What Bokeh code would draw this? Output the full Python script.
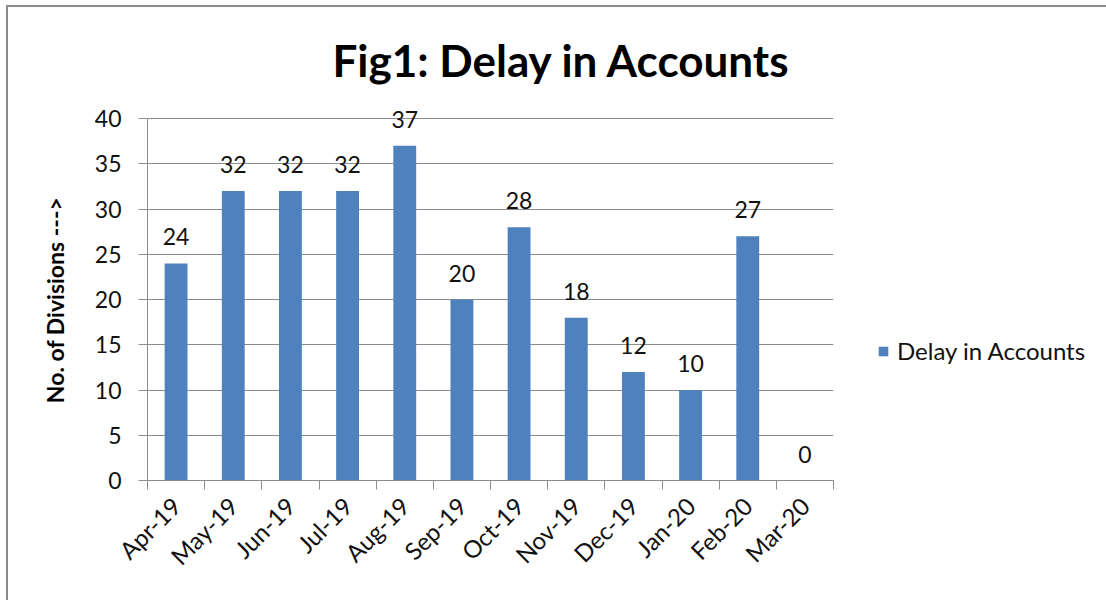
from bokeh.plotting import figure
from bokeh.models import FixedTicker, Legend, LegendItem, ColumnDataSource, LabelSet, Range1d
from bokeh.core.properties import value
from bokeh.embed import file_html
from bokeh.resources import INLINE
import math

months = ["Apr-19", "May-19", "Jun-19", "Jul-19", "Aug-19", "Sep-19",
          "Oct-19", "Nov-19", "Dec-19", "Jan-20", "Feb-20", "Mar-20"]
delays = [24, 32, 32, 32, 37, 20, 28, 18, 12, 10, 27, 0]
series_name = "Delay in Accounts"
y_title = "No. of Divisions --->"
y_ticks = [0, 5, 10, 15, 20, 25, 30, 35, 40]

FONT = "Lato"
BLUE = "#4F81BD"
GRID = "#8C8C8C"

n = len(months)
xs = [i + 0.5 for i in range(n)]
src = ColumnDataSource(dict(x=xs, y=delays, lbl=[str(v) for v in delays]))

p = figure(frame_width=686, frame_height=389, output_backend="svg", toolbar_location=None,
           x_range=Range1d(0, n), y_range=Range1d(0, 43),
           min_border_left=139, min_border_right=260, min_border_top=84, min_border_bottom=120)
p.styles = {"border-left": "2px solid #8c8c8c", "border-top": "2px solid #8c8c8c",
            "margin-left": "6px", "margin-top": "5px"}

p.title.text = "Fig1: Delay in Accounts"
p.title.text_font = FONT
p.title.text_font_style = "bold"
p.title.text_font_size = "44px"
p.title.text_color = "#000000"
p.title.align = "left"
p.title.offset = 185
p.title.standoff = 12

r = p.vbar(x="x", top="y", width=0.40, source=src, fill_color=BLUE, line_color=None)

labels = LabelSet(x="x", y="y", text="lbl", source=src, text_align="center",
                  text_baseline="bottom", y_offset=18, text_font=value(FONT),
                  text_font_size=value("23px"), text_color="#111111")
p.add_layout(labels)

p.outline_line_color = None
p.xgrid.visible = False
p.ygrid.grid_line_color = GRID
p.ygrid.grid_line_width = 1
p.ygrid.ticker = FixedTicker(ticks=y_ticks)

p.yaxis.ticker = FixedTicker(ticks=y_ticks)
p.yaxis.bounds = (0, 40)
p.yaxis.axis_line_color = GRID
p.yaxis.major_tick_line_color = GRID
p.yaxis.major_tick_in = 0
p.yaxis.major_tick_out = 9
p.yaxis.minor_tick_line_color = None
p.yaxis.major_label_text_font = FONT
p.yaxis.major_label_text_font_size = "23px"
p.yaxis.major_label_text_color = "#111111"
p.yaxis.major_label_standoff = 17
# trailing no-break spaces centre the visible title on the 0-40 part of the axis
p.yaxis.axis_label = y_title + "\u00a0" * 5
p.yaxis.axis_label_text_font = FONT
p.yaxis.axis_label_text_font_style = "bold"
p.yaxis.axis_label_text_font_size = "23px"
p.yaxis.axis_label_text_color = "#000000"
p.yaxis.axis_label_standoff = 23

p.xaxis.ticker = FixedTicker(ticks=xs, minor_ticks=list(range(n + 1)))
p.xaxis.major_label_overrides = {x: m for x, m in zip(xs, months)}
p.xaxis.axis_line_color = GRID
p.xaxis.major_tick_line_color = None
p.xaxis.major_tick_out = 0
p.xaxis.major_tick_in = 0
p.xaxis.minor_tick_line_color = GRID
p.xaxis.minor_tick_in = 0
p.xaxis.minor_tick_out = 9
p.xaxis.major_label_orientation = math.pi / 4
p.xaxis.major_label_text_font = FONT
p.xaxis.major_label_text_font_size = "24px"
p.xaxis.major_label_text_color = "#111111"
p.xaxis.major_label_standoff = 12

legend = Legend(items=[LegendItem(label=series_name, renderers=[r])],
                location=(44, 115), border_line_color=None, padding=0, margin=0,
                glyph_width=12, glyph_height=12, label_standoff=8,
                label_text_font=FONT, label_text_font_size="24px",
                label_text_color="#111111", background_fill_alpha=0)
p.add_layout(legend, "right")

open("out.html", "w").write(file_html(p, INLINE))
